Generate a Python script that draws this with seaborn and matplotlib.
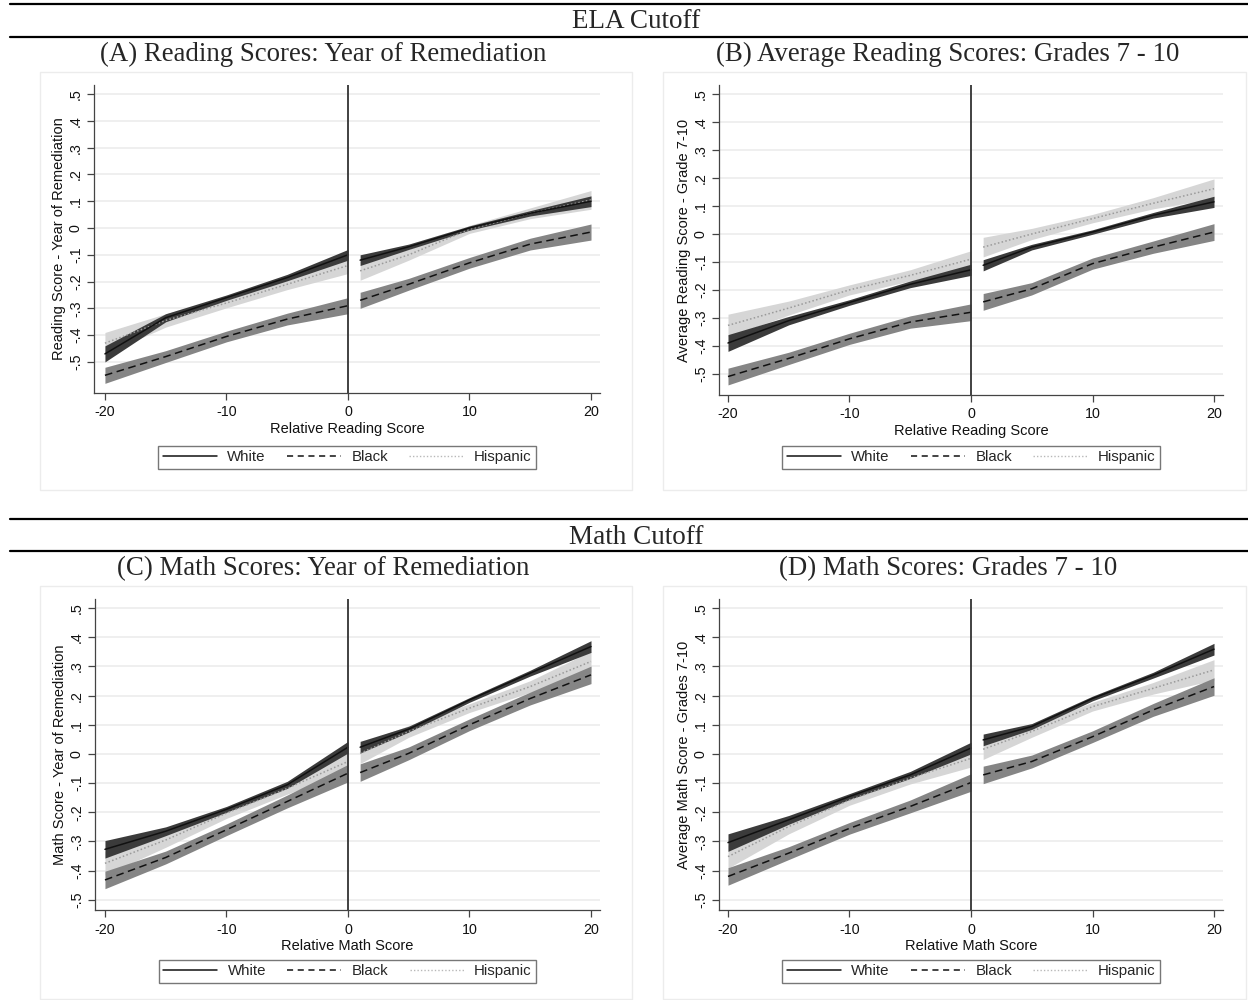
import numpy as np
import pandas as pd
import matplotlib
matplotlib.use("Agg")
import matplotlib.pyplot as plt
import seaborn as sns
from matplotlib.lines import Line2D
from matplotlib.patches import Rectangle

sns.set_theme(style="white")
plt.rcParams["font.family"] = ["Liberation Sans", "DejaVu Sans"]

# ---------------- data ----------------
X_LEFT = [-20, -15, -10, -5, 0]
X_RIGHT = [1, 5, 10, 15, 20]
GROUPS = ["White", "Black", "Hispanic"]

# Panel A: Reading scores, year of remediation
A_WHITE_L = [-0.47, -0.335, -0.26, -0.185, -0.10]
A_WHITE_R = [-0.12, -0.07, 0.00, 0.055, 0.10]
A_BLACK_L = [-0.55, -0.48, -0.405, -0.34, -0.29]
A_BLACK_R = [-0.27, -0.21, -0.13, -0.06, -0.015]
A_HISP_L = [-0.43, -0.345, -0.28, -0.21, -0.14]
A_HISP_R = [-0.16, -0.10, -0.005, 0.055, 0.105]

# Panel B: Average reading scores grades 7-10
B_WHITE_L = [-0.39, -0.31, -0.245, -0.18, -0.128]
B_WHITE_R = [-0.112, -0.047, 0.007, 0.067, 0.115]
B_BLACK_L = [-0.51, -0.445, -0.375, -0.315, -0.28]
B_BLACK_R = [-0.243, -0.196, -0.106, -0.047, 0.007]
B_HISP_L = [-0.327, -0.265, -0.20, -0.148, -0.09]
B_HISP_R = [-0.047, 0.0, 0.055, 0.11, 0.162]

# Panel C: Math scores, year of remediation
C_WHITE_L = [-0.327, -0.265, -0.19, -0.106, 0.023]
C_WHITE_R = [0.023, 0.085, 0.185, 0.277, 0.368]
C_BLACK_L = [-0.432, -0.355, -0.26, -0.163, -0.066]
C_BLACK_R = [-0.064, 0.002, 0.10, 0.19, 0.271]
C_HISP_L = [-0.375, -0.295, -0.203, -0.118, -0.026]
C_HISP_R = [0.002, 0.077, 0.157, 0.231, 0.317]

# Panel D: Math scores grades 7-10
D_WHITE_L = [-0.304, -0.226, -0.146, -0.072, 0.02]
D_WHITE_R = [0.048, 0.094, 0.19, 0.27, 0.359]
D_BLACK_L = [-0.42, -0.34, -0.255, -0.18, -0.098]
D_BLACK_R = [-0.072, -0.026, 0.059, 0.151, 0.231]
D_HISP_L = [-0.352, -0.249, -0.158, -0.083, -0.015]
D_HISP_R = [0.016, 0.077, 0.162, 0.225, 0.288]

# confidence band half-widths
WHITE_HW_L = [0.03, 0.015, 0.01, 0.012, 0.02]
WHITE_HW_R = [0.02, 0.01, 0.008, 0.01, 0.02]
BLACK_HW_L = [0.03, 0.022, 0.02, 0.022, 0.03]
BLACK_HW_R = [0.03, 0.022, 0.02, 0.022, 0.03]
HISP_HW_L = [0.04, 0.025, 0.018, 0.02, 0.03]
HISP_HW_R = [0.035, 0.02, 0.015, 0.02, 0.035]

PANEL_TITLES = ["(A) Reading Scores: Year of Remediation",
                "(B) Average Reading Scores: Grades 7 - 10",
                "(C) Math Scores: Year of Remediation",
                "(D) Math Scores: Grades 7 - 10"]
Y_LABELS = ["Reading Score - Year of Remediation",
            "Average Reading Score - Grade 7-10",
            "Math Score - Year of Remediation",
            "Average Math Score - Grades 7-10"]
X_LABELS = ["Relative Reading Score", "Relative Reading Score",
            "Relative Math Score", "Relative Math Score"]
SECTION_TITLES = ["ELA Cutoff", "Math Cutoff"]
X_TICKS = [-20, -10, 0, 10, 20]
Y_TICKS = [-0.5, -0.4, -0.3, -0.2, -0.1, 0.0, 0.1, 0.2, 0.3, 0.4, 0.5]

# ---------------- build a tidy table ----------------
HW = {"White": (WHITE_HW_L, WHITE_HW_R),
      "Black": (BLACK_HW_L, BLACK_HW_R),
      "Hispanic": (HISP_HW_L, HISP_HW_R)}
PANELS = {
    "A": {"White": (A_WHITE_L, A_WHITE_R), "Black": (A_BLACK_L, A_BLACK_R), "Hispanic": (A_HISP_L, A_HISP_R)},
    "B": {"White": (B_WHITE_L, B_WHITE_R), "Black": (B_BLACK_L, B_BLACK_R), "Hispanic": (B_HISP_L, B_HISP_R)},
    "C": {"White": (C_WHITE_L, C_WHITE_R), "Black": (C_BLACK_L, C_BLACK_R), "Hispanic": (C_HISP_L, C_HISP_R)},
    "D": {"White": (D_WHITE_L, D_WHITE_R), "Black": (D_BLACK_L, D_BLACK_R), "Hispanic": (D_HISP_L, D_HISP_R)},
}
rows = []
for p, gd in PANELS.items():
    for g, (yl, yr) in gd.items():
        hl, hr = HW[g]
        for side, xs, ys, hs in (("L", X_LEFT, yl, hl), ("R", X_RIGHT, yr, hr)):
            for x, y, h in zip(xs, ys, hs):
                rows.append(dict(panel=p, group=g, side=side, x=x, y=y, lo=y - h, hi=y + h))
df = pd.DataFrame(rows)

LINE_COLOR = {"White": "#111111", "Black": "#111111", "Hispanic": "#9a9a9a"}
BAND_COLOR = {"White": "#3b3b3b", "Black": "#858585", "Hispanic": "#d6d6d6"}
LINE_STYLE = {"White": "-", "Black": (0, (5, 3)), "Hispanic": (0, (1, 1.5))}

# ---------------- figure layout (pixel based) ----------------
W, H = 1248, 1000
fig = plt.figure(figsize=(W / 100, H / 100), dpi=100)

def fx(px):
    return px / W

def fy(py):
    return 1 - py / H

# axes boxes: left, right, top, bottom in px ; xlim ; ylim
AX_SPEC = {
    "A": (94, 600, 85, 393, (-20.9, 20.74), (-0.616, 0.534)),
    "B": (719, 1223, 85, 395, (-20.74, 20.74), (-0.576, 0.533)),
    "C": (95, 600, 599, 910, (-20.82, 20.74), (-0.535, 0.531)),
    "D": (719, 1223, 599, 910, (-20.74, 20.74), (-0.535, 0.531)),
}
TITLE_POS = {"A": (323, 54), "B": (948, 54), "C": (323, 569), "D": (948, 569)}
BOX_POS = {"A": (40, 72, 632, 490), "B": (663, 72, 1246, 490),
           "C": (40, 586, 632, 999), "D": (663, 586, 1246, 999)}
LEGEND_Y = {"A": 457, "B": 457, "C": 971, "D": 971}

# faint panel frames
for k, (x0, y0, x1, y1) in BOX_POS.items():
    fig.patches.append(Rectangle((fx(x0), fy(y1)), fx(x1) - fx(x0), fy(y0) - fy(y1),
                                 transform=fig.transFigure, fill=False,
                                 edgecolor="#ececec", linewidth=1))

# section rules and headers
for ypx in (4, 37, 519, 551):
    fig.add_artist(Line2D([fx(10), 1.0], [fy(ypx), fy(ypx)], transform=fig.transFigure,
                          color="black", linewidth=1.6))
fig.text(fx(636), fy(21), SECTION_TITLES[0], ha="center", va="center",
         fontsize=19.5, family="Liberation Serif")
fig.text(fx(636), fy(537), SECTION_TITLES[1], ha="center", va="center",
         fontsize=19.5, family="Liberation Serif")


def fmt(v):
    v = round(v, 1)
    if abs(v) < 1e-9:
        return "0"
    s = f"{v:.1f}"
    return s.replace("0.", ".")


for i, p in enumerate(["A", "B", "C", "D"]):
    l, r, t, b, xlim, ylim = AX_SPEC[p]
    ax = fig.add_axes([fx(l), fy(b), fx(r) - fx(l), fy(t) - fy(b)])
    ax.set_facecolor("none")
    ax.set_xlim(*xlim)
    ax.set_ylim(*ylim)
    for yt in Y_TICKS:
        ax.axhline(yt, color="#ebebeb", linewidth=1.1, zorder=0)
    sub_p = df[df.panel == p]
    # bands
    for g in ["Hispanic", "Black", "White"]:
        for side in ["L", "R"]:
            s = sub_p[(sub_p.group == g) & (sub_p.side == side)]
            ax.fill_between(s.x, s.lo, s.hi, color=BAND_COLOR[g], linewidth=0, zorder=2)
    # lines
    for g in ["Hispanic", "Black", "White"]:
        for side in ["L", "R"]:
            s = sub_p[(sub_p.group == g) & (sub_p.side == side)]
            sns.lineplot(data=s, x="x", y="y", ax=ax, estimator=None, sort=False,
                         color=LINE_COLOR[g], linestyle=LINE_STYLE[g],
                         linewidth=1.1, legend=False, zorder=3)
    ax.axvline(0, color="#333333", linewidth=1.3, zorder=4)

    ax.set_xticks(X_TICKS)
    ax.set_xticklabels([str(v) for v in X_TICKS])
    ax.set_yticks(Y_TICKS)
    ax.set_yticklabels([fmt(v) for v in Y_TICKS], rotation=90, va="center")
    ax.tick_params(axis="x", which="both", direction="out", length=5, width=0.9,
                   color="#444444", labelsize=10.3, labelcolor="#111111", pad=4,
                   bottom=True)
    ax.tick_params(axis="y", which="both", direction="out", length=5, width=0.9,
                   color="#444444", labelsize=10.3, labelcolor="#111111", pad=3,
                   left=True)
    for sp in ["top", "right"]:
        ax.spines[sp].set_visible(False)
    for sp in ["left", "bottom"]:
        ax.spines[sp].set_color("#444444")
        ax.spines[sp].set_linewidth(0.9)
    ax.set_xlabel(X_LABELS[i], fontsize=10.5, color="#111111", labelpad=2)
    ax.set_ylabel(Y_LABELS[i], fontsize=10.5, color="#111111", labelpad=2)

    tx, ty = TITLE_POS[p]
    fig.text(fx(tx), fy(ty), PANEL_TITLES[i], ha="center", va="center",
             fontsize=19.4, family="Liberation Serif")

    handles = [Line2D([], [], color=LINE_COLOR["White"], linestyle="-", linewidth=1.1),
               Line2D([], [], color=LINE_COLOR["Black"], linestyle=(0, (4, 3)), linewidth=1.1),
               Line2D([], [], color="#b8b8b8", linestyle=(0, (1, 1.5)), linewidth=1.0)]
    leg = ax.legend(handles, GROUPS, ncol=3, loc="center",
                    bbox_to_anchor=(fx((l + r) / 2), fy(LEGEND_Y[p])),
                    bbox_transform=fig.transFigure, frameon=True, fancybox=False,
                    edgecolor="#555555", fontsize=10.8, handlelength=3.6,
                    columnspacing=1.4, handletextpad=0.7, borderpad=0.3)
    leg.get_frame().set_linewidth(1.0)

fig.savefig("out.png", dpi=100)
